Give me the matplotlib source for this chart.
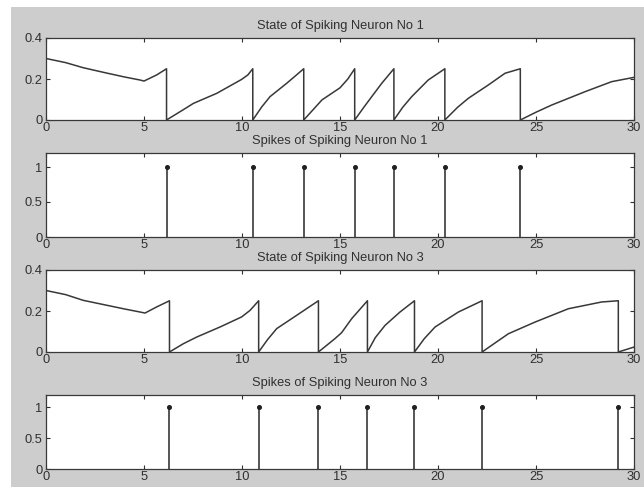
import matplotlib
matplotlib.use("Agg")
import matplotlib.pyplot as plt
from matplotlib.patches import Rectangle

plt.rcParams['font.family'] = ['Liberation Sans', 'DejaVu Sans']

# ---- data ----
t_state1 = [0, 1, 1.9, 3, 4.0, 4.8, 5.0, 5.65, 6.15,
            6.15, 7.0, 7.52, 8.71, 9.98, 10.3, 10.55,
            10.55, 11.0, 11.43, 12.28, 13.15,
            13.15, 14.08, 15.0, 15.4, 15.75,
            15.75, 16.2, 16.62, 17.13, 17.75,
            17.75, 18.2, 18.66, 19.5, 20.35,
            20.35, 21.0, 21.55, 22.57, 23.42, 24.2,
            24.2, 25.0, 25.8, 27.5, 28.86, 30]
v_state1 = [0.30, 0.28, 0.255, 0.231, 0.21, 0.195, 0.19, 0.22, 0.25,
            0, 0.05, 0.081, 0.13, 0.198, 0.22, 0.25,
            0, 0.063, 0.114, 0.179, 0.25,
            0, 0.098, 0.157, 0.2, 0.25,
            0, 0.06, 0.114, 0.179, 0.25,
            0, 0.062, 0.114, 0.195, 0.25,
            0, 0.062, 0.106, 0.171, 0.228, 0.25,
            0, 0.038, 0.073, 0.138, 0.187, 0.208]
spikes1 = [6.15, 10.55, 13.15, 15.75, 17.75, 20.35, 24.2]

t_state3 = [0, 1, 1.9, 3, 4.0, 4.8, 5.05, 5.65, 6.3,
            6.3, 7.0, 7.69, 8.88, 9.98, 10.41, 10.85,
            10.85, 11.3, 11.77, 12.79, 13.9,
            13.9, 14.74, 15.08, 15.6, 16.4,
            16.4, 16.8, 17.3, 18.06, 18.8,
            18.8, 19.3, 19.85, 21.04, 22.25,
            22.25, 23.0, 23.59, 24.95, 26.65, 28.35, 29.2,
            29.2, 30]
v_state3 = [0.30, 0.28, 0.252, 0.23, 0.21, 0.195, 0.19, 0.22, 0.25,
            0, 0.04, 0.073, 0.122, 0.171, 0.203, 0.25,
            0, 0.06, 0.114, 0.179, 0.25,
            0, 0.065, 0.094, 0.163, 0.25,
            0, 0.07, 0.13, 0.195, 0.25,
            0, 0.065, 0.122, 0.195, 0.25,
            0, 0.05, 0.089, 0.146, 0.211, 0.244, 0.25,
            0, 0.024]
spikes3 = [6.3, 10.85, 13.9, 16.4, 18.8, 22.25, 29.2]

titles = ["State of Spiking Neuron No 1", "Spikes of Spiking Neuron No 1",
          "State of Spiking Neuron No 3", "Spikes of Spiking Neuron No 3"]
x_ticks = [0, 5, 10, 15, 20, 25, 30]
state_yticks = [0, 0.2, 0.4]
state_ylabels = ["0", "0.2", "0.4"]
spike_yticks = [0, 0.5, 1]
spike_ylabels = ["0", "0.5", "1"]

W, H = 644, 487
fig = plt.figure(figsize=(W / 100, H / 100), dpi=100, facecolor='white')
fig.patches.append(Rectangle((11 / W, 0), 1 - 11 / W, 1 - 7 / H, transform=fig.transFigure,
                             facecolor='#cdcdcd', edgecolor='none', zorder=-10))

# axes boxes in pixels: (left, right, top, bottom)
boxes = [(46, 634, 38, 120), (46, 634, 153, 237), (46, 634, 270, 352), (46, 634, 395, 469)]
axes = []
for (l, r, t, b) in boxes:
    ax = fig.add_axes([l / W, (H - b) / H, (r - l) / W, (b - t) / H])
    axes.append(ax)

line_col = '#383838'
for i, ax in enumerate(axes):
    ax.set_facecolor('white')
    if i % 2 == 0:
        tt, vv = (t_state1, v_state1) if i == 0 else (t_state3, v_state3)
        ax.plot(tt, vv, color=line_col, lw=1.1)
        ax.set_ylim(0, 0.4)
        ax.set_yticks(state_yticks)
        ax.set_yticklabels(state_ylabels)
    else:
        sp = spikes1 if i == 1 else spikes3
        ax.vlines(sp, 0, [1] * len(sp), color=line_col, lw=1.2)
        ax.plot(sp, [1] * len(sp), linestyle='none', marker='o', ms=2.6, color='#202020')
        ax.set_ylim(0, 1.2)
        ax.set_yticks(spike_yticks)
        ax.set_yticklabels(spike_ylabels)
    ax.set_xlim(0, 30)
    ax.set_xticks(x_ticks)
    ax.tick_params(direction='in', length=3, width=0.8, top=True, right=True,
                   labelsize=9.3, colors='#303030', pad=1.5)
    ax.tick_params(axis='y', pad=2.5)
    for s in ax.spines.values():
        s.set_color('#383838')
        s.set_linewidth(0.9)
    ax.set_title(titles[i], fontsize=9.3, color='#303030', pad=6.5)

fig.savefig('out.png', dpi=100, facecolor=fig.get_facecolor())
